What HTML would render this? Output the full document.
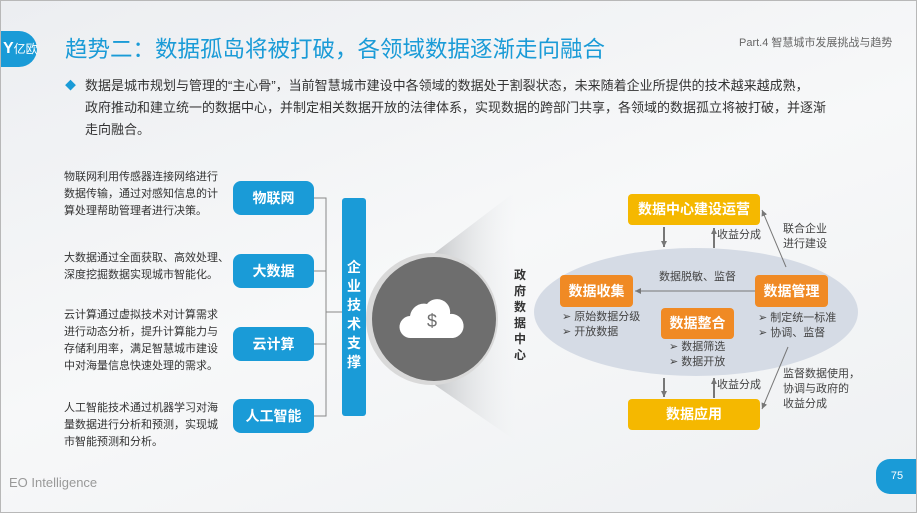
<!DOCTYPE html>
<html><head><meta charset="utf-8"><style>
body{margin:0;}
#p{position:relative;width:917px;height:513px;overflow:hidden;background:linear-gradient(160deg,#eceef1 0%,#f7f8f9 50%,#eef0f2 100%);font-family:"Liberation Sans","Noto Sans CJK SC",sans-serif;box-sizing:border-box;border:1px solid #b8b8b8;}
.a{position:absolute;white-space:nowrap;}
.t{font-size:11px;color:#333;line-height:17px;}
.pill{position:absolute;left:232px;width:81px;height:34px;background:#1a9bd7;border-radius:8px;color:#fff;font-size:14px;font-weight:bold;text-align:center;line-height:34px;}
.box{position:absolute;color:#fff;font-size:14px;font-weight:bold;text-align:center;border-radius:4px;}
.s{font-size:11px;color:#444;line-height:15px;}
</style></head><body><div id="p">
<div class="a" style="left:0;top:30px;width:34px;height:36px;background:#1a9bd7;border-radius:0 18px 18px 0;color:#fff;font-size:12px;line-height:36px;padding-left:2px;"><b style="font-size:16px">Y</b>亿欧</div>
<div class="a" style="left:64px;top:31px;font-size:22.5px;color:#1a9bd7;">趋势二：数据孤岛将被打破，各领域数据逐渐走向融合</div>
<div class="a" style="left:738px;top:33px;font-size:11px;color:#666;">Part.4 智慧城市发展挑战与趋势</div>
<div class="a" style="left:64px;top:76px;color:#1a9bd7;font-size:11px;">◆</div>
<div class="a" style="left:84px;top:74px;font-size:13px;color:#333;line-height:22px;">数据是城市规划与管理的“主心骨”，当前智慧城市建设中各领域的数据处于割裂状态，未来随着企业所提供的技术越来越成熟，<br>政府推动和建立统一的数据中心，并制定相关数据开放的法律体系，实现数据的跨部门共享，各领域的数据孤立将被打破，并逐渐<br>走向融合。</div>
<div class="a t" style="left:63px;top:168px;">物联网利用传感器连接网络进行<br>数据传输，通过对感知信息的计<br>算处理帮助管理者进行决策。</div>
<div class="a t" style="left:63px;top:249px;">大数据通过全面获取、高效处理、<br>深度挖掘数据实现城市智能化。</div>
<div class="a t" style="left:63px;top:306px;">云计算通过虚拟技术对计算需求<br>进行动态分析，提升计算能力与<br>存储利用率，满足智慧城市建设<br>中对海量信息快速处理的需求。</div>
<div class="a t" style="left:63px;top:399px;">人工智能技术通过机器学习对海<br>量数据进行分析和预测，实现城<br>市智能预测和分析。</div>
<div class="pill" style="top:180px">物联网</div>
<div class="pill" style="top:253px">大数据</div>
<div class="pill" style="top:326px">云计算</div>
<div class="pill" style="top:398px">人工智能</div>
<svg class="a" style="left:0;top:0" width="917" height="513">
<defs><marker id="m" markerUnits="userSpaceOnUse" markerWidth="8" markerHeight="8" refX="6" refY="4" orient="auto"><path d="M0,1 L6,4 L0,7 z" fill="#777"/></marker>
<linearGradient id="g" x1="0" x2="1"><stop offset="0" stop-color="#c4c6c8"/><stop offset="1" stop-color="#eceef0" stop-opacity="0"/></linearGradient></defs>
<path d="M313,197 H325 V415 H313 M313,270 H325 M313,343 H325 M325,311 H341" fill="none" stroke="#888" stroke-width="1"/>
<polygon points="431,254 515,190 515,440 431,382" fill="url(#g)"/>
<circle cx="431" cy="318" r="66" fill="#d9d9d9"/>
<circle cx="433" cy="318" r="62" fill="#6e6e6e"/>
<path d="M410,337 a11,11 0 0 1 -1,-22 a14,14 0 0 1 17,-12 a13,13 0 0 1 23,10 a12,12 0 0 1 3,24 z" fill="#fff"/>
<text x="431" y="326" font-size="18" fill="#6e6e6e" text-anchor="middle" font-family="Liberation Sans">$</text>
<ellipse cx="695" cy="311" rx="162" ry="64" fill="#d5dbe5"/>
<line x1="754" y1="290" x2="634" y2="290" stroke="#777" marker-end="url(#m)"/>
<line x1="663" y1="226" x2="663" y2="246" stroke="#777" stroke-width="2" marker-end="url(#m)"/>
<line x1="713" y1="247" x2="713" y2="227" stroke="#777" stroke-width="2" marker-end="url(#m)"/>
<line x1="663" y1="377" x2="663" y2="396" stroke="#777" stroke-width="2" marker-end="url(#m)"/>
<line x1="713" y1="397" x2="713" y2="377" stroke="#777" stroke-width="2" marker-end="url(#m)"/>
<line x1="785" y1="266" x2="761" y2="209" stroke="#777" marker-end="url(#m)"/>
<line x1="787" y1="346" x2="761" y2="408" stroke="#777" marker-end="url(#m)"/>
</svg>
<div class="a" style="left:341px;top:197px;width:24px;height:218px;background:#1a9bd7;border-radius:3px;color:#fff;font-size:14px;font-weight:bold;text-align:center;line-height:19px;padding-top:60px;box-sizing:border-box;white-space:normal;">企<br>业<br>技<br>术<br>支<br>撑</div>
<div class="a" style="left:513px;top:266px;font-size:12px;color:#333;line-height:16px;font-weight:bold;">政<br>府<br>数<br>据<br>中<br>心</div>
<div class="box" style="left:627px;top:193px;width:132px;height:31px;line-height:31px;background:#f5b800;">数据中心建设运营</div>
<div class="box" style="left:627px;top:398px;width:132px;height:31px;line-height:31px;background:#f5b800;">数据应用</div>
<div class="box" style="left:559px;top:274px;width:73px;height:32px;line-height:32px;background:#f08a24;">数据收集</div>
<div class="box" style="left:754px;top:274px;width:73px;height:32px;line-height:32px;background:#f08a24;">数据管理</div>
<div class="box" style="left:660px;top:307px;width:73px;height:31px;line-height:31px;background:#f08a24;">数据整合</div>
<div class="a s" style="left:658px;top:269px;">数据脱敏、监督</div>
<div class="a s" style="left:561px;top:309px;">➢ 原始数据分级<br>➢ 开放数据</div>
<div class="a s" style="left:757px;top:310px;">➢ 制定统一标准<br>➢ 协调、监督</div>
<div class="a s" style="left:668px;top:339px;">➢ 数据筛选<br>➢ 数据开放</div>
<div class="a s" style="left:716px;top:227px;">收益分成</div>
<div class="a s" style="left:716px;top:377px;">收益分成</div>
<div class="a s" style="left:782px;top:221px;">联合企业<br>进行建设</div>
<div class="a s" style="left:782px;top:366px;">监督数据使用，<br>协调与政府的<br>收益分成</div>
<div class="a" style="left:8px;top:474px;font-size:13px;color:#999;">EO Intelligence</div>
<div class="a" style="left:875px;top:458px;width:42px;height:35px;background:#1a9bd7;border-radius:14px 0 0 14px;color:#fff;font-size:11px;text-align:center;line-height:35px;">75</div>
</div></body></html>
